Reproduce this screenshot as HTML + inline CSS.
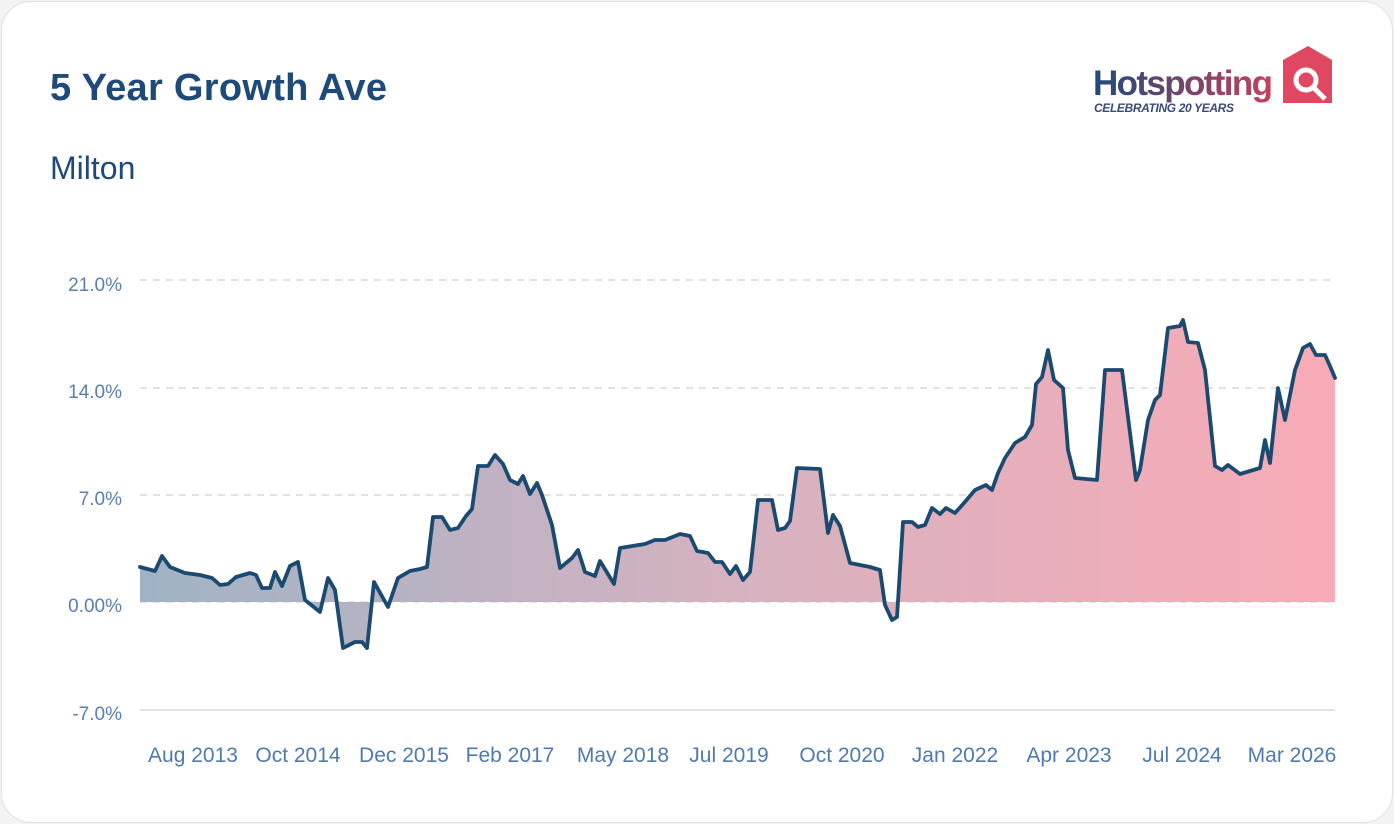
<!DOCTYPE html>
<html><head><meta charset="utf-8"><style>
html,body{margin:0;padding:0;width:1394px;height:824px;background:#f3f3f3;overflow:hidden;font-family:"Liberation Sans",sans-serif}
.card{position:absolute;left:1px;top:1px;width:1390px;height:820px;background:#fff;border:1px solid #e2e2e2;border-radius:30px}
</style></head><body>
<div class="card"></div>
<svg width="1394" height="824" style="position:absolute;left:0;top:0">
<defs>
<linearGradient id="g" x1="140" y1="0" x2="1335" y2="0" gradientUnits="userSpaceOnUse">
<stop offset="0" stop-color="#9fb3c4"/><stop offset="0.5" stop-color="#d6b2c0"/><stop offset="1" stop-color="#f8abb6"/></linearGradient>
<linearGradient id="lg" x1="0" y1="0" x2="1" y2="0"><stop offset="0" stop-color="#1e4a7a"/><stop offset="1" stop-color="#c7405d"/></linearGradient>
</defs>
<text x="50" y="100" font-size="38" font-weight="bold" fill="#1e4a7a" textLength="337">5 Year Growth Ave</text>
<text x="50" y="179" font-size="32" fill="#1e4a7a">Milton</text>
<text x="1093" y="95" font-size="35" font-weight="bold" fill="url(#lg)" textLength="180">Hotspotting</text>
<text x="1094" y="112" font-size="12" font-weight="bold" font-style="italic" fill="#3b4a7a" textLength="140">CELEBRATING 20 YEARS</text>
<path d="M1283 60 L1308 46 L1332 60 L1332 103 L1283 103 Z" fill="#df4860"/>
<circle cx="1306" cy="80" r="10" fill="none" stroke="#fff" stroke-width="5"/>
<line x1="1313" y1="87" x2="1325" y2="99" stroke="#fff" stroke-width="5"/>
<g stroke="#d5d8e2" stroke-width="1.5" stroke-dasharray="7,6">
<line x1="140" y1="280" x2="1335" y2="280"/><line x1="140" y1="388" x2="1335" y2="388"/><line x1="140" y1="495" x2="1335" y2="495"/><line x1="140" y1="602" x2="1335" y2="602"/>
</g>
<line x1="140" y1="710" x2="1335" y2="710" stroke="#d5d8e2" stroke-width="1.5"/>
<g font-size="19" fill="#5a7fb0" text-anchor="end">
<text x="122" y="291">21.0%</text><text x="122" y="398">14.0%</text><text x="122" y="505">7.0%</text><text x="122" y="612">0.00%</text><text x="122" y="720">-7.0%</text>
</g>
<g font-size="21" fill="#4f7ab0" text-anchor="middle">
<text x="193" y="762">Aug 2013</text><text x="298" y="762">Oct 2014</text><text x="404" y="762">Dec 2015</text><text x="510" y="762">Feb 2017</text><text x="623" y="762">May 2018</text><text x="729" y="762">Jul 2019</text><text x="842" y="762">Oct 2020</text><text x="955" y="762">Jan 2022</text><text x="1069" y="762">Apr 2023</text><text x="1182" y="762">Jul 2024</text><text x="1292" y="762">Mar 2026</text>
</g>
<path id="a" fill="url(#g)" d="M140 602 L140,567 155,571 162,556 170,567 185,573 200,575 212,578 220,585 228,584 236,577 250,573 256,575 262,588 270,588 275,572 282,586 290,566 298,562 305,600 320,612 328,578 335,590 343,648 355,642 362,642 367,648 374,582 388,607 398,578 410,571 420,569 427,567 433,517 442,517 450,530 458,528 466,516 472,509 478,466 488,466 495,455 503,464 510,480 518,484 523,476 530,494 537,483 542,495 552,525 560,568 572,558 578,550 585,572 595,576 600,561 614,584 620,548 645,544 655,540 665,540 680,534 690,536 697,551 708,553 715,562 722,562 730,574 736,566 743,580 750,572 758,500 772,500 778,530 785,528 790,521 797,468 820,469 828,533 833,515 840,526 850,563 870,567 880,570 885,605 892,620 897,617 903,522 912,522 918,527 925,525 932,508 940,514 946,508 955,513 964,503 975,490 986,485 992,490 998,473 1005,458 1015,443 1025,437 1032,425 1036,384 1042,377 1048,350 1054,380 1063,388 1068,450 1075,478 1097,480 1105,370 1122,370 1136,480 1140,470 1148,420 1155,400 1160,395 1168,328 1180,326 1183,320 1188,342 1198,343 1205,370 1215,466 1222,470 1228,465 1240,474 1260,468 1265,440 1270,463 1278,388 1285,420 1295,370 1303,348 1310,344 1316,355 1325,355 1330,366 1335,378 L1335 602 Z"/>
<polyline fill="none" stroke="#1b4a70" stroke-width="3.8" stroke-linejoin="round" stroke-linecap="round" points="140,567 155,571 162,556 170,567 185,573 200,575 212,578 220,585 228,584 236,577 250,573 256,575 262,588 270,588 275,572 282,586 290,566 298,562 305,600 320,612 328,578 335,590 343,648 355,642 362,642 367,648 374,582 388,607 398,578 410,571 420,569 427,567 433,517 442,517 450,530 458,528 466,516 472,509 478,466 488,466 495,455 503,464 510,480 518,484 523,476 530,494 537,483 542,495 552,525 560,568 572,558 578,550 585,572 595,576 600,561 614,584 620,548 645,544 655,540 665,540 680,534 690,536 697,551 708,553 715,562 722,562 730,574 736,566 743,580 750,572 758,500 772,500 778,530 785,528 790,521 797,468 820,469 828,533 833,515 840,526 850,563 870,567 880,570 885,605 892,620 897,617 903,522 912,522 918,527 925,525 932,508 940,514 946,508 955,513 964,503 975,490 986,485 992,490 998,473 1005,458 1015,443 1025,437 1032,425 1036,384 1042,377 1048,350 1054,380 1063,388 1068,450 1075,478 1097,480 1105,370 1122,370 1136,480 1140,470 1148,420 1155,400 1160,395 1168,328 1180,326 1183,320 1188,342 1198,343 1205,370 1215,466 1222,470 1228,465 1240,474 1260,468 1265,440 1270,463 1278,388 1285,420 1295,370 1303,348 1310,344 1316,355 1325,355 1330,366 1335,378"/>
</svg>
</body></html>
